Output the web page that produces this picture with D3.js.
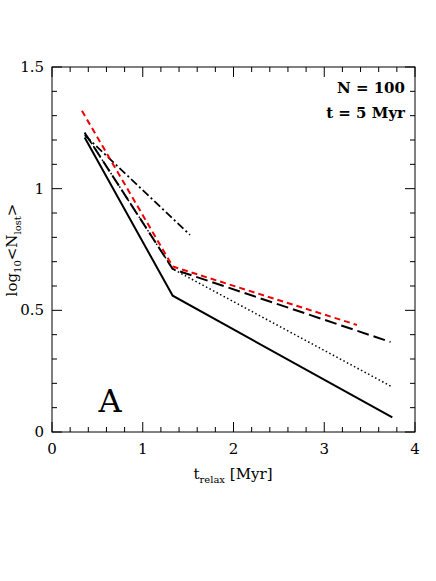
<!DOCTYPE html><html><head><meta charset="utf-8">
<script src="https://cdn.jsdelivr.net/npm/d3@7"></script>
<style>body{margin:0;background:#fff}text{font-family:"DejaVu Serif",serif}</style></head><body>
<svg id="c" width="436" height="581"></svg>
<script>
const solid=[[0.36,1.21],[1.33,0.56],[3.75,0.06]];
const longDash=[[0.36,1.23],[1.33,0.67],[3.73,0.37]];
const dotted=[[0.36,1.23],[1.33,0.67],[3.75,0.185]];
const redDash=[[0.33,1.32],[1.33,0.68],[3.36,0.44]];
const dashDot=[[0.36,1.22],[1.52,0.81]];
const xTicks=[0,1,2,3,4], yTicks=[0,0.5,1,1.5];
const svg=d3.select("#c");
const x=d3.scaleLinear([0,4],[52,415]), y=d3.scaleLinear([0,1.5],[432,67]);
const g=svg.append("g");
g.append("rect").attr("x",52).attr("y",67).attr("width",363).attr("height",365).attr("fill","none").attr("stroke","#000").attr("stroke-width",1);
const minX=d3.range(0,4.01,0.2), minY=d3.range(0,1.501,0.1);
minX.forEach(v=>{const maj=Math.abs(v-Math.round(v))<1e-6, L=maj?10:5;
 g.append("line").attr("x1",x(v)).attr("x2",x(v)).attr("y1",432).attr("y2",432-L).attr("stroke","#000");
 g.append("line").attr("x1",x(v)).attr("x2",x(v)).attr("y1",67).attr("y2",67+L).attr("stroke","#000");});
minY.forEach(v=>{const maj=Math.abs(v*2-Math.round(v*2))<1e-6, L=maj?10:5;
 g.append("line").attr("y1",y(v)).attr("y2",y(v)).attr("x1",52).attr("x2",52+L).attr("stroke","#000");
 g.append("line").attr("y1",y(v)).attr("y2",y(v)).attr("x1",415).attr("x2",415-L).attr("stroke","#000");});
xTicks.forEach(v=>g.append("text").attr("x",x(v)).attr("y",454).attr("text-anchor","middle").attr("font-size",15).text(v));
yTicks.forEach(v=>g.append("text").attr("x",44).attr("y",y(v)+5).attr("text-anchor","end").attr("font-size",15).text(v));
const line=d3.line().x(d=>x(d[0])).y(d=>y(d[1]));
const add=(d,c,w,da)=>g.append("path").attr("d",line(d)).attr("fill","none").attr("stroke",c).attr("stroke-width",w).attr("stroke-dasharray",da);
add(solid,"#000",2,null);
add(longDash,"#000",2,"12,5");
add(dotted,"#000",1.5,"1.5,2.5");
add(dashDot,"#000",1.8,"8,3,2,3");
add(redDash,"#e00",2,"6,4");
g.append("text").attr("x",405).attr("y",93).attr("text-anchor","end").attr("font-size",15).attr("font-weight","bold").text("N = 100");
g.append("text").attr("x",405).attr("y",118).attr("text-anchor","end").attr("font-size",15).attr("font-weight","bold").text("t = 5 Myr");
g.append("text").attr("x",110).attr("y",412).attr("text-anchor","middle").attr("font-size",32).text("A");
const xl=g.append("text").attr("x",233).attr("y",479).attr("text-anchor","middle").attr("font-size",15);
xl.append("tspan").text("t");xl.append("tspan").attr("font-size",10).attr("dy",4).text("relax");xl.append("tspan").attr("dy",-4).text(" [Myr]");
const yl=g.append("text").attr("transform","translate(17,250) rotate(-90)").attr("text-anchor","middle").attr("font-size",15);
yl.append("tspan").text("log");yl.append("tspan").attr("font-size",10).attr("dy",4).text("10");yl.append("tspan").attr("dy",-4).text("<N");
yl.append("tspan").attr("font-size",10).attr("dy",4).text("lost");yl.append("tspan").attr("dy",-4).text(">");
</script></body></html>
